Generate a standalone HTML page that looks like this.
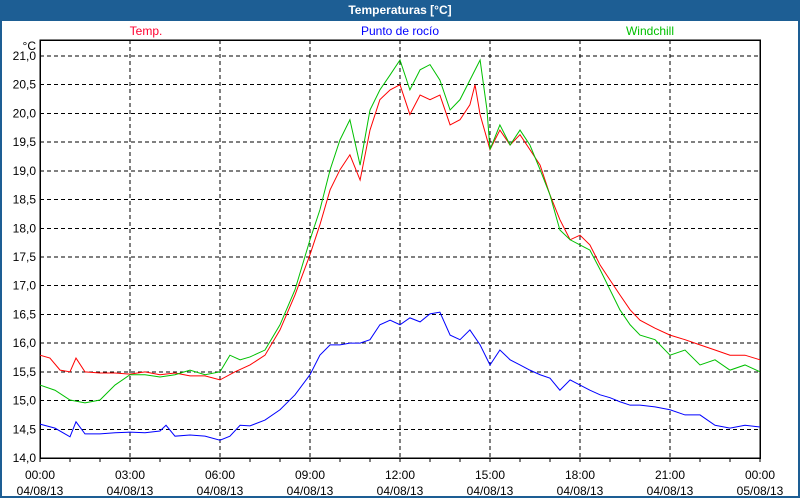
<!DOCTYPE html>
<html><head><meta charset="utf-8"><style>
body{margin:0;width:800px;height:500px;overflow:hidden;background:#fff;font-family:"Liberation Sans",sans-serif}
#frame{position:absolute;left:0;top:0;width:796px;height:496px;border:2px solid #1d5e94;border-top:0}
#title{position:absolute;left:0;top:0;width:800px;height:21px;background:#1d5e94;color:#fff;font-weight:bold;font-size:12px;text-align:center;line-height:20px}
</style></head><body>
<div id="frame"></div>
<div id="title">Temperaturas [°C]</div>
<svg id="chart" width="800" height="500" style="position:absolute;left:0;top:0"></svg>
<script>
const yTicks=[14.0,14.5,15.0,15.5,16.0,16.5,17.0,17.5,18.0,18.5,19.0,19.5,20.0,20.5,21.0];
const xTickHours=[0,3,6,9,12,15,18,21,24];
const xTickTimes=["00:00","03:00","06:00","09:00","12:00","15:00","18:00","21:00","00:00"];
const xTickDates=["04/08/13","04/08/13","04/08/13","04/08/13","04/08/13","04/08/13","04/08/13","04/08/13","05/08/13"];
const tempT=[0,.33,.67,1,1.2,1.5,2,2.5,3,3.5,4,4.5,5,5.5,6,6.5,7,7.5,8,8.5,9,9.33,9.67,10,10.33,10.67,11,11.33,11.67,12,12.33,12.67,13,13.33,13.67,14,14.33,14.5,14.67,15,15.33,15.67,16,16.33,16.67,17,17.33,17.67,18,18.33,18.67,19,19.33,19.67,20,20.5,21,21.5,22,22.5,23,23.5,24];
const tempV=[15.79,15.74,15.53,15.5,15.74,15.5,15.48,15.48,15.46,15.5,15.45,15.48,15.43,15.43,15.36,15.5,15.62,15.79,16.23,16.84,17.54,18.06,18.67,19.02,19.28,18.84,19.71,20.24,20.41,20.5,19.98,20.32,20.24,20.32,19.8,19.89,20.15,20.5,19.98,19.37,19.71,19.45,19.63,19.37,19.1,18.58,18.15,17.8,17.88,17.71,17.36,17.1,16.84,16.58,16.4,16.26,16.14,16.06,15.97,15.88,15.79,15.79,15.71];
const windT=[0,.5,1,1.5,2,2.5,3,3.5,4,4.5,5,5.5,6,6.33,6.67,7,7.5,8,8.5,9,9.33,9.67,10,10.33,10.67,11,11.33,11.67,12,12.33,12.67,13,13.33,13.67,14,14.33,14.67,14.9,15,15.33,15.67,16,16.33,16.67,17,17.33,17.67,18,18.33,18.67,19,19.33,19.67,20,20.5,21,21.5,22,22.5,23,23.5,24];
const windV=[15.27,15.18,15.01,14.96,15.01,15.27,15.45,15.45,15.41,15.45,15.53,15.45,15.5,15.79,15.71,15.76,15.88,16.32,16.93,17.8,18.32,19.02,19.54,19.89,19.1,20.06,20.41,20.67,20.93,20.41,20.76,20.85,20.58,20.06,20.24,20.58,20.93,20.06,19.37,19.8,19.45,19.71,19.45,19.02,18.58,17.97,17.8,17.71,17.62,17.28,16.93,16.58,16.32,16.14,16.06,15.79,15.88,15.62,15.71,15.53,15.62,15.5];
const dewT=[0,.5,1,1.2,1.5,2,2.5,3,3.5,4,4.2,4.5,5,5.5,6,6.33,6.67,7,7.5,8,8.5,9,9.33,9.67,10,10.33,10.67,11,11.33,11.67,12,12.33,12.67,13,13.33,13.67,14,14.33,14.67,15,15.33,15.67,16,16.33,16.67,17,17.33,17.67,18,18.33,18.67,19,19.33,19.67,20,20.5,21,21.5,22,22.5,23,23.5,24];
const dewV=[14.59,14.52,14.37,14.63,14.42,14.42,14.44,14.45,14.44,14.47,14.57,14.38,14.4,14.38,14.31,14.38,14.57,14.56,14.66,14.84,15.1,15.45,15.79,15.97,15.97,16,16,16.06,16.32,16.4,16.32,16.44,16.37,16.51,16.54,16.14,16.06,16.23,15.97,15.62,15.88,15.71,15.62,15.53,15.45,15.39,15.18,15.36,15.27,15.18,15.1,15.05,14.98,14.92,14.92,14.89,14.84,14.75,14.75,14.57,14.52,14.57,14.54];

const L=40,R=760,T=40,Y0=458,Y21=56;
const sx=h=>L+h*(R-L)/24;
const sy=v=>Y0-(v-14)*(Y0-Y21)/7;
const NS="http://www.w3.org/2000/svg";
const svg=document.getElementById('chart');
function mk(tag,attrs,parent){const e=document.createElementNS(NS,tag);for(const k in attrs)e.setAttribute(k,attrs[k]);(parent||svg).appendChild(e);return e;}

yTicks.forEach(v=>{
  const g=mk('line',{x1:L,x2:R,y1:sy(v),y2:sy(v),stroke:'#000','stroke-dasharray':'4,3','stroke-width':1,'shape-rendering':'crispEdges'});
  
  
  const t=mk('text',{x:36,y:sy(v)+4,'text-anchor':'end','font-size':12,fill:'#000'});
  t.textContent=v.toFixed(1).replace('.',',');
  
  
});
xTickHours.forEach((h,i)=>{
  if(h>0&&h<24){const g=mk('line',{x1:sx(h),x2:sx(h),y1:T,y2:Y0,stroke:'#000','stroke-dasharray':'4,3','shape-rendering':'crispEdges'});
  
  }
  const t=mk('text',{x:sx(h),y:479,'text-anchor':'middle','font-size':12});
  t.textContent=xTickTimes[i];
  
  
  const d=mk('text',{x:sx(h),y:495,'text-anchor':'middle','font-size':12});
  d.textContent=xTickDates[i];
  
  
});
for(let h=0;h<=24;h++){const m=mk('line',{x1:sx(h),x2:sx(h),y1:Y0,y2:Y0+4,stroke:'#000','shape-rendering':'crispEdges'});
  
  }
const box=mk('rect',{x:L,y:T,width:R-L,height:Y0-T,fill:'none',stroke:'#000','stroke-width':1.5,'shape-rendering':'crispEdges'});


const u=mk('text',{x:36,y:50,'text-anchor':'end','font-size':12});
u.textContent='°C';



function series(ts,vs,color,name){
  const p=mk('polyline',{points:ts.map((t,i)=>sx(t)+','+sy(vs[i])).join(' '),fill:'none',stroke:color,'stroke-width':1});
  
  
}
series(dewT,dewV,'#0000ff','dew-point-line');
series(tempT,tempV,'#ff0000','temp-line');
series(windT,windV,'#00c000','windchill-line');

[['Temp.',146,'#ff0030','legend-temp'],['Punto de rocío',400,'#0000ff','legend-dew-point'],['Windchill',650,'#00c000','legend-windchill']].forEach(a=>{
  const t=mk('text',{x:a[1],y:35,'text-anchor':'middle','font-size':12,fill:a[2]});
  t.textContent=a[0];
  
  
});
</script>
</body></html>
